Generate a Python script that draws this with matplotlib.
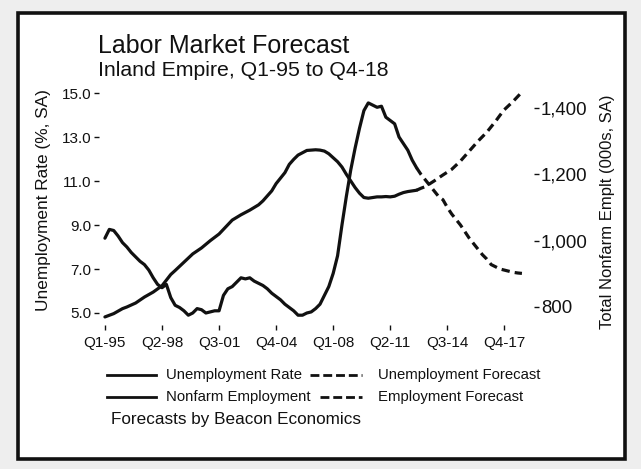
import matplotlib
matplotlib.use("Agg")
import matplotlib.pyplot as plt
from matplotlib.lines import Line2D
from matplotlib.patches import Rectangle
import numpy as np

# ---------------- data (quarter index 0 = Q1-95) ----------------
unemp_q = list(range(0, 72))
unemp_val = [8.4, 8.8, 8.75, 8.5, 8.2, 8.0, 7.75, 7.55, 7.35, 7.2,
             6.95, 6.6, 6.3, 6.15, 6.3, 5.7, 5.35, 5.25, 5.1, 4.9,
             5.0, 5.2, 5.15, 5.0, 5.05, 5.1, 5.1, 5.8, 6.1, 6.2,
             6.4, 6.6, 6.55, 6.6, 6.45, 6.35, 6.25, 6.1, 5.9, 5.75,
             5.6, 5.4, 5.25, 5.1, 4.9, 4.9, 5.0, 5.05, 5.2, 5.4,
             5.8, 6.2, 6.8, 7.6, 9.0, 10.3, 11.5, 12.5, 13.4, 14.2,
             14.55, 14.45, 14.35, 14.4, 13.9, 13.75, 13.6, 13.0, 12.7, 12.4,
             11.95, 11.6]

unemp_fc_q = list(range(71, 96))
unemp_fc_val = [11.6, 11.3, 11.05, 10.8, 10.55, 10.3, 10.15, 9.8, 9.5, 9.25,
                9.0, 8.7, 8.4, 8.15, 7.9, 7.65, 7.45, 7.2, 7.1, 7.0,
                6.95, 6.9, 6.85, 6.82, 6.8]

emp_q = [0, 2, 4, 5, 7, 9, 11, 13, 15, 16, 18, 20, 22, 24, 26, 28, 29, 31, 33,
         35, 36, 38, 39, 41, 42, 43, 44, 45, 46, 47, 48, 49, 50, 51, 52, 53,
         54, 55, 56, 57, 58, 59, 60, 61, 62, 63, 64, 65, 66, 67, 68, 69, 70, 71]
emp_val = [770, 780, 795, 800, 812, 830, 845, 864, 898, 910, 935, 960, 978,
           1000, 1020, 1048, 1062, 1078, 1092, 1108, 1120, 1150, 1172, 1205,
           1230, 1245, 1258, 1265, 1272, 1273, 1274, 1273, 1270, 1262, 1250,
           1238, 1222, 1200, 1180, 1160, 1143, 1130, 1128, 1130, 1132, 1132,
           1133, 1132, 1134, 1140, 1145, 1148, 1150, 1152]

emp_fc_q = [71, 72, 73, 75, 77, 79, 81, 83, 85, 87, 89, 90, 91, 93, 95]
emp_fc_val = [1152, 1158, 1163, 1180, 1198, 1215, 1240, 1270, 1300, 1327,
              1360, 1378, 1395, 1420, 1448]

xtick_q = [0, 13, 26, 39, 52, 65, 78, 91]
xtick_labels = ["Q1-95", "Q2-98", "Q3-01", "Q4-04", "Q1-08", "Q2-11", "Q3-14", "Q4-17"]
left_ticks = [5.0, 7.0, 9.0, 11.0, 13.0, 15.0]
right_ticks = [800, 1000, 1200, 1400]

# ---------------- figure ----------------
plt.rcParams['font.family'] = ['Liberation Sans', 'DejaVu Sans']
W, H = 641, 469
fig = plt.figure(figsize=(W / 100, H / 100), dpi=100)
fig.patch.set_facecolor('#eeeeee')

# white panel with thick black border
fig.add_artist(Rectangle((18 / W, 1 - 459 / H), (625 - 18) / W, (459 - 13) / H,
                         transform=fig.transFigure, facecolor='white',
                         edgecolor='#111111', linewidth=2.6, zorder=0))

ax_l, ax_r, ax_t, ax_b = 99, 534, 85, 325
ax = fig.add_axes([ax_l / W, 1 - ax_b / H, (ax_r - ax_l) / W, (ax_b - ax_t) / H])
ax.set_facecolor('none')
ax2 = ax.twinx()

lw = 2.3
ink = '#111111'
dash = (0, (2.6, 1.6))
ax.plot(unemp_q, unemp_val, color=ink, lw=lw, solid_joinstyle='round', solid_capstyle='round')
ax.plot(unemp_fc_q, unemp_fc_val, color=ink, lw=lw, ls=dash)
ax2.plot(emp_q, emp_val, color=ink, lw=lw, solid_joinstyle='round', solid_capstyle='round')
ax2.plot(emp_fc_q, emp_fc_val, color=ink, lw=lw, ls=dash)

ax.set_xlim(-1.35, 97.75)
ax.set_ylim(4.4545, 15.364)
ax2.set_ylim(745.7, 1469.3)

for a in (ax, ax2):
    for s in a.spines.values():
        s.set_visible(False)

ax.set_xticks(xtick_q)
ax.set_xticklabels(xtick_labels)
ax.set_yticks(left_ticks)
ax.set_yticklabels([f"{v:.1f}" for v in left_ticks])
ax2.set_yticks(right_ticks)
ax2.set_yticklabels([f"{v:,}" for v in right_ticks])

ax.tick_params(axis='x', direction='out', length=3.6, width=1.0, pad=4,
               labelsize=11, colors=ink)
ax.tick_params(axis='y', direction='out', length=3.6, width=1.0, pad=2,
               labelsize=11, colors=ink)
ax2.tick_params(axis='y', direction='out', length=3.6, width=1.0, pad=1.5,
                labelsize=13.4, colors=ink)

# axis titles
fig.text(44 / W, 1 - 200 / H, "Unemployment Rate (%, SA)", rotation=90,
         ha='center', va='center', fontsize=12.4, color=ink)
fig.text(607.5 / W, 1 - 212 / H, "Total Nonfarm Emplt (000s, SA)", rotation=90,
         ha='center', va='center', fontsize=12.0, color=ink)

# titles
fig.text(98 / W, 1 - 53 / H, "Labor Market Forecast", ha='left', va='baseline',
         fontsize=18, color=ink)
fig.text(98 / W, 1 - 76 / H, "Inland Empire, Q1-95 to Q4-18", ha='left', va='baseline',
         fontsize=15.3, color=ink)

# legend (manual layout)
def leg_line(x0, x1, y, dashed):
    ls = (0, (3.2, 1.4)) if dashed else '-'
    fig.add_artist(Line2D([x0 / W, x1 / W], [1 - y / H, 1 - y / H],
                          transform=fig.transFigure, color=ink, lw=2.0, ls=ls))

leg_fs = 10.7
leg_line(107, 156, 375, False)
fig.text(166 / W, 1 - 375 / H, "Unemployment Rate", ha='left', va='center',
         fontsize=leg_fs, color=ink)
leg_line(310, 362, 375, True)
fig.text(378 / W, 1 - 375 / H, "Unemployment Forecast", ha='left', va='center',
         fontsize=leg_fs, color=ink)
leg_line(107, 156, 397, False)
fig.text(166 / W, 1 - 397 / H, "Nonfarm Employment", ha='left', va='center',
         fontsize=leg_fs, color=ink)
leg_line(320, 362, 397, True)
fig.text(378 / W, 1 - 397 / H, "Employment Forecast", ha='left', va='center',
         fontsize=leg_fs, color=ink)

fig.text(111 / W, 1 - 419 / H, "Forecasts by Beacon Economics", ha='left', va='center',
         fontsize=12.3, color=ink)

fig.savefig("out.png", dpi=100, facecolor=fig.get_facecolor())
